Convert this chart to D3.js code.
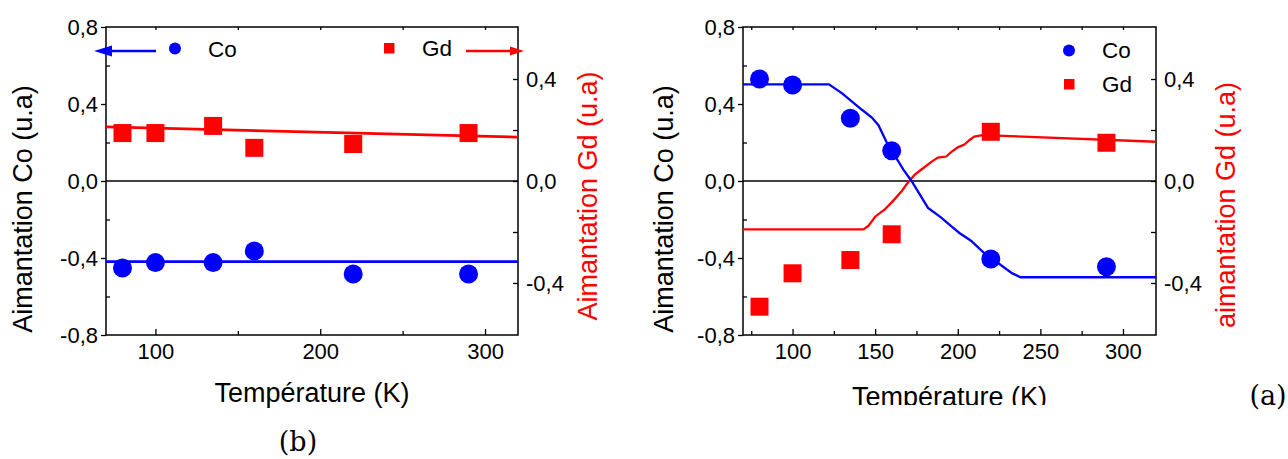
<!DOCTYPE html>
<html><head><meta charset="utf-8">
<script src="https://cdn.jsdelivr.net/npm/d3@7"></script>
<style>body{margin:0;background:#fff}svg{display:block}</style>
</head><body>
<svg id="c" width="1288" height="459"></svg>
<script>
// ---- data ----
const tempsB = [80, 100, 135, 160, 220, 290];
const coB = [-0.452, -0.424, -0.424, -0.364, -0.483, -0.483];
const gdB = [0.188, 0.188, 0.216, 0.130, 0.145, 0.188];
const coFitTB = [70, 320];
const coFitB = [-0.419, -0.419];
const gdFitTB = [70, 320];
const gdFitB = [0.212, 0.172];

const tempsA = [80, 100, 135, 160, 220, 290];
const coA = [0.530, 0.499, 0.326, 0.157, -0.405, -0.445];
const gdA = [-0.493, -0.362, -0.310, -0.209, 0.193, 0.150];
const coCurveTA = [70, 122, 130, 142, 148, 152, 157, 162, 167, 172, 177, 182, 190, 196, 201, 208, 216, 225, 233, 238, 320];
const coCurveA = [0.502, 0.502, 0.455, 0.370, 0.330, 0.290, 0.200, 0.130, 0.060, 0.0, -0.070, -0.140, -0.190, -0.235, -0.270, -0.310, -0.375, -0.430, -0.480, -0.500, -0.500];
const gdCurveTA = [70, 143, 146, 150, 156, 161, 166, 170, 174, 179, 184, 188, 193, 196, 200, 204, 207, 210, 215, 320];
const gdCurveA = [-0.190, -0.190, -0.175, -0.140, -0.110, -0.077, -0.040, -0.005, 0.025, 0.050, 0.075, 0.092, 0.096, 0.113, 0.132, 0.143, 0.160, 0.174, 0.180, 0.154];

const xMajorB = [100, 200, 300], xMinorB = [150, 250];
const xMajorA = [100, 150, 200, 250, 300], xMinorA = [75, 125, 175, 225, 275];
const yLeftMajor = [-0.8, -0.4, 0, 0.4, 0.8], yLeftMinor = [-0.6, -0.2, 0.2, 0.6];
const yRightMajor = [-0.4, 0, 0.4], yRightMinor = [-0.2, 0.2];
const xDomain = [70, 320], yLeftDomain = [-0.8, 0.8], yRightDomain = [-0.604, 0.604];

const BLUE = "#0000ff", RED = "#ff0000";
const fmt = v => (v < 0 ? "-" : "") + Math.abs(v).toFixed(1).replace(".", ",");
const svg = d3.select("#c");
const FONT = "'Liberation Sans', Arial, sans-serif";

function panel(o) {
  const x = d3.scaleLinear().domain(xDomain).range([o.x0, o.x1]);
  const yL = d3.scaleLinear().domain(yLeftDomain).range([o.y1, o.y0]);
  const yR = d3.scaleLinear().domain(yRightDomain).range([o.y1, o.y0]);
  const g = svg.append("g");

  g.append("line").attr("x1", o.x0).attr("x2", o.x1).attr("y1", yL(0)).attr("y2", yL(0))
    .attr("stroke", "#000").attr("stroke-width", 1.3);

  const style = sel => {
    sel.select(".domain").remove();
    sel.selectAll("line").attr("stroke", "#000").attr("stroke-width", 1.3);
    sel.selectAll("text").attr("font-family", FONT).attr("font-size", 22).attr("fill", "#000");
  };
  g.append("g").attr("transform", `translate(0,${o.y1})`)
    .call(d3.axisBottom(x).tickValues(o.xMajor).tickSize(-6).tickPadding(8).tickFormat(d3.format("d"))).call(style);
  g.append("g").attr("transform", `translate(0,${o.y1})`)
    .call(d3.axisBottom(x).tickValues(o.xMinor).tickSize(-4).tickFormat("")).call(style);
  g.append("g").attr("transform", `translate(0,${o.y0})`)
    .call(d3.axisTop(x).tickValues(o.xMajor.concat(o.xMinor)).tickSize(-3).tickFormat("")).call(style);
  g.append("g").attr("transform", `translate(${o.x0},0)`)
    .call(d3.axisLeft(yL).tickValues(yLeftMajor).tickSize(5).tickPadding(3).tickFormat(fmt)).call(style);
  g.append("g").attr("transform", `translate(${o.x0},0)`)
    .call(d3.axisLeft(yL).tickValues(yLeftMinor).tickSize(-4).tickFormat("")).call(style);
  g.append("g").attr("transform", `translate(${o.x1},0)`)
    .call(d3.axisRight(yR).tickValues(yRightMajor).tickSize(-5).tickPadding(8).tickFormat(fmt)).call(style);
  g.append("g").attr("transform", `translate(${o.x1},0)`)
    .call(d3.axisRight(yR).tickValues(yRightMinor).tickSize(-5).tickFormat("")).call(style);

  g.append("rect").attr("x", o.x0).attr("y", o.y0).attr("width", o.x1 - o.x0).attr("height", o.y1 - o.y0)
    .attr("fill", "none").attr("stroke", "#000").attr("stroke-width", 1.5);

  const lineL = d3.line().x(d => x(d[0])).y(d => yL(d[1]));
  const lineR = d3.line().x(d => x(d[0])).y(d => yR(d[1]));
  g.append("path").datum(d3.zip(o.gdLineT, o.gdLine)).attr("d", lineR)
    .attr("fill", "none").attr("stroke", RED).attr("stroke-width", o.lw);
  g.append("path").datum(d3.zip(o.coLineT, o.coLine)).attr("d", lineL)
    .attr("fill", "none").attr("stroke", BLUE).attr("stroke-width", o.lw);

  g.selectAll(null).data(d3.zip(o.temps, o.gd)).join("rect")
    .attr("x", d => x(d[0]) - 9).attr("y", d => yR(d[1]) - 9).attr("width", 18).attr("height", 18).attr("fill", RED);
  g.selectAll(null).data(d3.zip(o.temps, o.co)).join("circle")
    .attr("cx", d => x(d[0])).attr("cy", d => yL(d[1])).attr("r", 9.5).attr("fill", BLUE);

  const mid = (o.x0 + o.x1) / 2;
  const xt = g.append("text").attr("x", mid).attr("y", o.xTitleY).attr("text-anchor", "middle")
    .attr("font-family", FONT).attr("font-size", 27).text("Température (K)");
  if (o.clipX) {
    svg.append("clipPath").attr("id", o.clipX.id).append("rect")
      .attr("x", o.x0 - 100).attr("y", 0).attr("width", 600).attr("height", o.clipX.y);
    xt.attr("clip-path", `url(#${o.clipX.id})`);
  }
  g.append("text").attr("transform", `translate(${o.yLTitleX},${o.yLTitleY}) rotate(-90)`)
    .attr("text-anchor", "middle").attr("dy", "0.35em").attr("font-family", FONT).attr("font-size", 27)
    .text("Aimantation Co (u.a)");
  g.append("text").attr("transform", `translate(${o.yRTitleX},${o.yRTitleY}) rotate(-90)`)
    .attr("text-anchor", "middle").attr("dy", "0.35em").attr("font-family", FONT).attr("font-size", 27)
    .attr("fill", RED).text(o.yRTitle);
  return {x, yL, yR, g};
}

const pb = panel({x0: 106, x1: 518, y0: 27, y1: 335, temps: tempsB, co: coB, gd: gdB,
  coLineT: coFitTB, coLine: coFitB, gdLineT: gdFitTB, gdLine: gdFitB, lw: 2.8,
  xMajor: xMajorB, xMinor: xMinorB, xTitleY: 402,
  yLTitleX: 23, yLTitleY: 209, yRTitleX: 588, yRTitleY: 196, yRTitle: "Aimantation Gd (u.a)"});
{
  const g = pb.g;
  g.append("line").attr("x1", 156).attr("x2", 108).attr("y1", 51).attr("y2", 51).attr("stroke", BLUE).attr("stroke-width", 2.5);
  g.append("path").attr("d", "M94,51 L112,45.5 L112,56.5 Z").attr("fill", BLUE);
  g.append("circle").attr("cx", 175).attr("cy", 48.5).attr("r", 6).attr("fill", BLUE);
  g.append("text").attr("x", 208).attr("y", 57).attr("font-family", FONT).attr("font-size", 22.5).text("Co");
  g.append("rect").attr("x", 384).attr("y", 43).attr("width", 10.5).attr("height", 10.5).attr("fill", RED);
  g.append("text").attr("x", 422).attr("y", 56).attr("font-family", FONT).attr("font-size", 22.5).text("Gd");
  g.append("line").attr("x1", 466).attr("x2", 514).attr("y1", 51).attr("y2", 51).attr("stroke", RED).attr("stroke-width", 2.5);
  g.append("path").attr("d", "M524,51 L510,46.5 L510,55.5 Z").attr("fill", RED);
}

const pa = panel({x0: 743, x1: 1156, y0: 27, y1: 335, temps: tempsA, co: coA, gd: gdA,
  coLineT: coCurveTA, coLine: coCurveA, gdLineT: gdCurveTA, gdLine: gdCurveA, lw: 2.3,
  xMajor: xMajorA, xMinor: xMinorA, xTitleY: 406, clipX: {id: "clipA", y: 405},
  yLTitleX: 664, yLTitleY: 209, yRTitleX: 1226, yRTitleY: 205, yRTitle: "aimantation Gd (u.a)"});
{
  const g = pa.g;
  g.append("circle").attr("cx", 1069).attr("cy", 50.5).attr("r", 6).attr("fill", BLUE);
  g.append("text").attr("x", 1102).attr("y", 58).attr("font-family", FONT).attr("font-size", 22.5).text("Co");
  g.append("rect").attr("x", 1064).attr("y", 79).attr("width", 10.5).attr("height", 10.5).attr("fill", RED);
  g.append("text").attr("x", 1102).attr("y", 92).attr("font-family", FONT).attr("font-size", 22.5).text("Gd");
}

svg.append("text").attr("x", 298).attr("y", 451).attr("text-anchor", "middle")
  .attr("font-family", "'DejaVu Serif', 'Liberation Serif', serif").attr("font-size", 27).text("(b)");
svg.append("text").attr("x", 1268).attr("y", 405).attr("text-anchor", "middle")
  .attr("font-family", "'DejaVu Serif', 'Liberation Serif', serif").attr("font-size", 27).text("(a)");
</script>
</body></html>
